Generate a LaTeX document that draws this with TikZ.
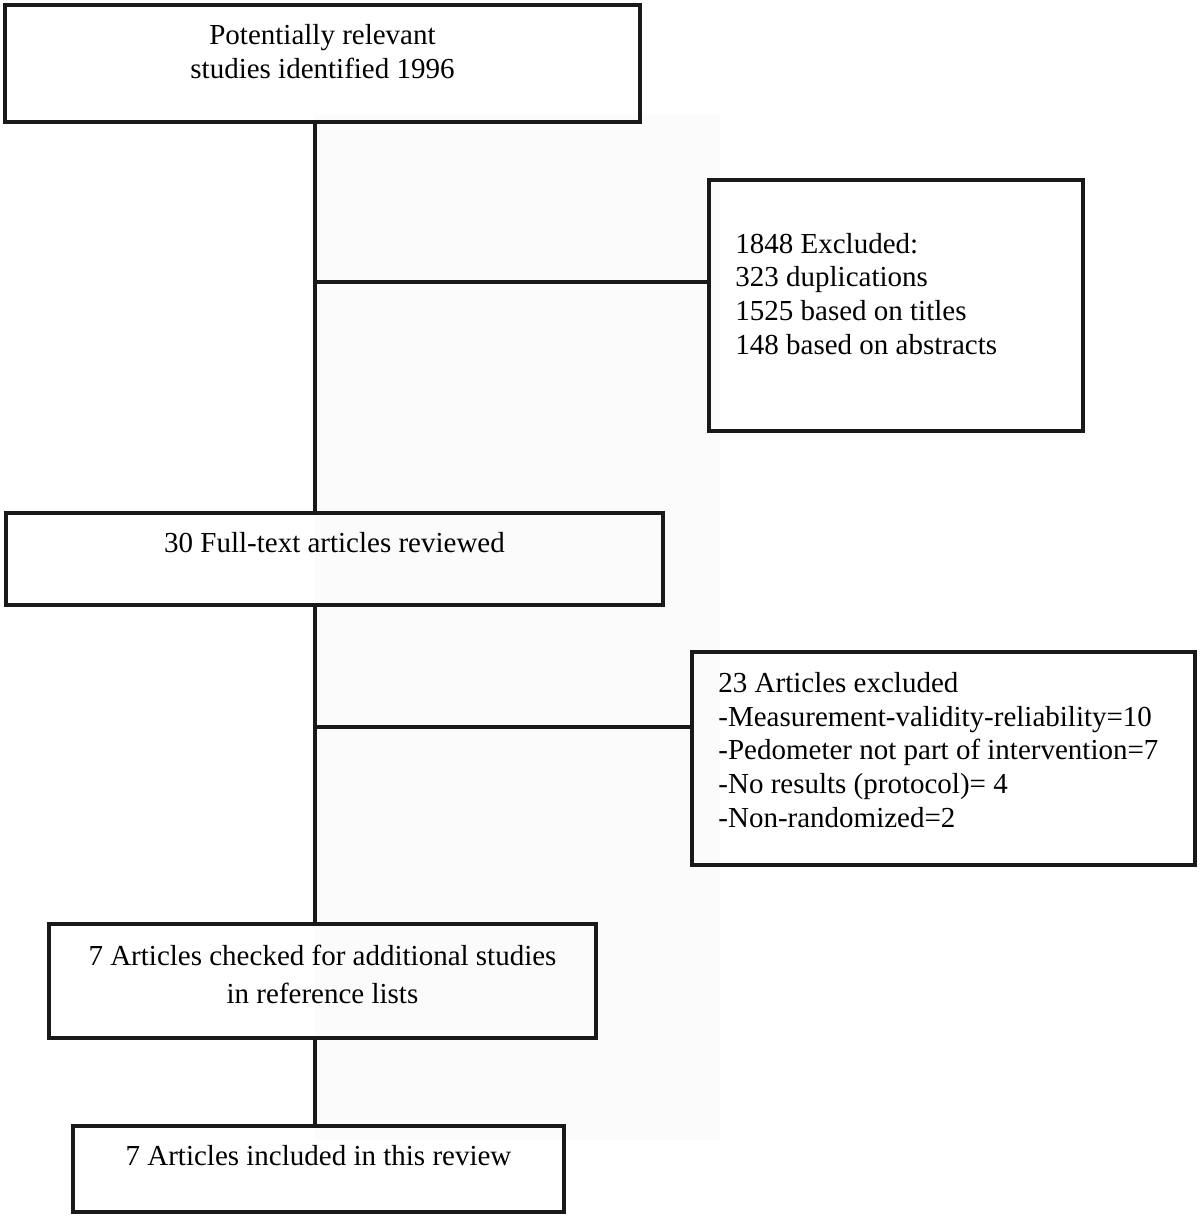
\documentclass[tikz,border=0pt]{standalone}
\usepackage{fontspec}
\setmainfont{Liberation Serif}

\tikzset{
  box/.style={draw=black!90, line width=2.2pt, inner sep=0pt},
  boxtext/.style={inner sep=0pt, anchor=base, font=\fontsize{14.5}{16.8}\selectfont},
  link/.style={draw=black!90, line width=2.2pt},
}

\begin{document}
\begin{tikzpicture}[x=0.5pt,y=-0.5pt]
\useasboundingbox (0,0) rectangle (1200,1217);

% faint backdrop behind the main line
\fill[black!1.5] (315,115) rectangle (720,1140);

% boxes
\node[box, minimum width=317.5pt, minimum height=58.5pt] (ident) at (322.5,63.5) {};
\node[box, minimum width=187pt, minimum height=125.5pt] (excla) at (896,305.5) {};
\node[box, minimum width=328.5pt, minimum height=46pt] (fulltext) at (334.5,559) {};
\node[box, minimum width=251.5pt, minimum height=106.5pt] (exclb) at (943.5,758.5) {};
\node[box, minimum width=273.5pt, minimum height=57pt] (checked) at (322.5,981) {};
\node[box, minimum width=245.5pt, minimum height=43pt] (included) at (318.5,1169) {};

% texts (base = last line)
\node[boxtext, align=center] (identtxt) at (322.5,78) {Potentially relevant\\studies identified 1996};
\node[boxtext, anchor=base west, align=left] (exclatxt) at (735,354)
  {1848 Excluded:\\323 duplications\\1525 based on titles\\148 based on abstracts};
\node[boxtext] (fulltexttxt) at (334.5,552) {30 Full-text articles reviewed};
\node[boxtext, anchor=base west, align=left] (exclbtxt) at (718,827)
  {23 Articles excluded\\-Measurement-validity-reliability=10\\-Pedometer not part of intervention=7\\-No results (protocol)= 4\\-Non-randomized=2};
\node[boxtext, align=center] (checkedtxt) at (322.5,1003) {7 Articles checked for additional studies\\[2pt]in reference lists};
\node[boxtext] (includedtxt) at (318.5,1165) {7 Articles included in this review};

% junctions
\node[coordinate] (ja) at (315,282) {};
\node[coordinate] (jb) at (315,727) {};

% lines
\draw[link] (ja |- ident.south) -- (ja |- fulltext.north);
\draw[link] (ja) -- (ja -| excla.west);
\draw[link] (jb |- fulltext.south) -- (jb |- checked.north);
\draw[link] (jb) -- (jb -| exclb.west);
\draw[link] (jb |- checked.south) -- (jb |- included.north);
\end{tikzpicture}
\end{document}
